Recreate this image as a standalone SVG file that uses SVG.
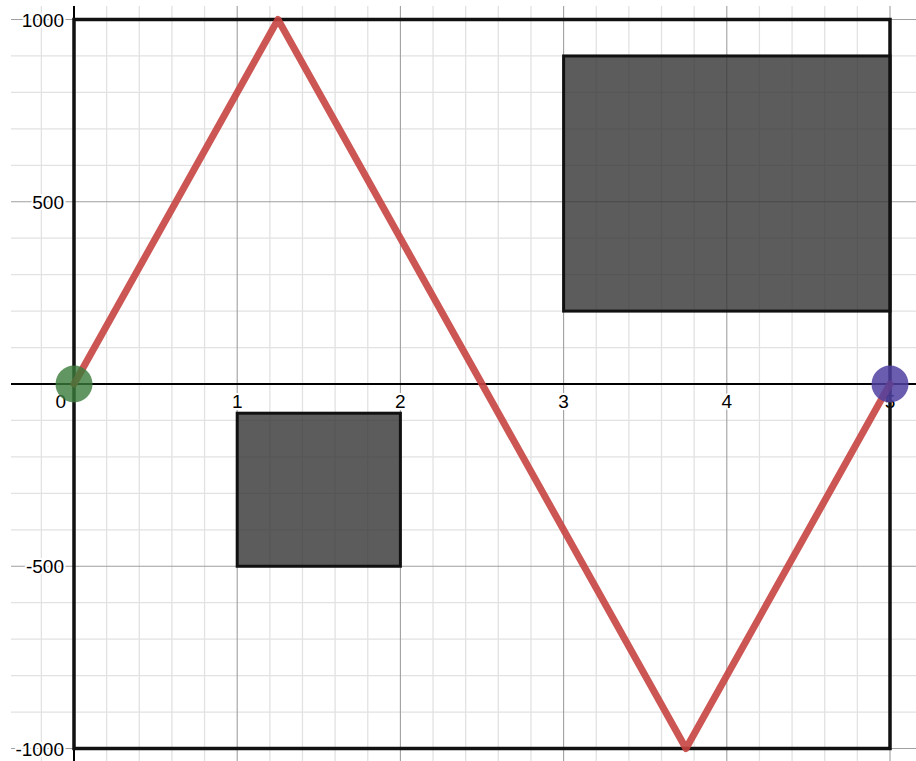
<svg xmlns="http://www.w3.org/2000/svg" width="916" height="761" viewBox="0 0 916 761">
<style>
.minor{stroke:#e2e2e2;stroke-width:1.3;fill:none}
.major{stroke:#a0a0a0;stroke-width:1.1;fill:none}
.axis{stroke:#000;stroke-width:2;fill:none}
.border{stroke:#111;stroke-width:3.5;fill:none}
.box{fill:#333;fill-opacity:0.8;stroke:#111;stroke-width:3}
.lbl{font-family:"Liberation Sans",Arial,sans-serif;font-size:19px;fill:#000;stroke:#fff;stroke-width:4;stroke-linejoin:round;paint-order:stroke}
.curve{fill:none;stroke:#c74440;stroke-opacity:0.9;stroke-width:7;stroke-linejoin:round;stroke-linecap:round}
</style>
<rect width="916" height="761" fill="#fff"/>
<g id="grid">
<path class="minor" d="M41.36 6V761M106.64 6V761M139.28 6V761M171.92 6V761M204.56 6V761M269.84 6V761M302.48 6V761M335.12 6V761M367.76 6V761M433.04 6V761M465.68 6V761M498.32 6V761M530.96 6V761M596.24 6V761M628.88 6V761M661.52 6V761M694.16 6V761M759.44 6V761M792.08 6V761M824.72 6V761M857.36 6V761"/>
<path class="minor" d="M11 55.95H916M11 92.4H916M11 128.85H916M11 165.3H916M11 238.2H916M11 274.65H916M11 311.1H916M11 347.55H916M11 420.45H916M11 456.9H916M11 493.35H916M11 529.8H916M11 602.7H916M11 639.15H916M11 675.6H916M11 712.05H916"/>
<path class="major" d="M237.2 6V761M400.4 6V761M563.6 6V761M726.8 6V761M890 6V761M11 19.5H916M11 201.75H916M11 566.25H916M11 748.5H916"/>
<path class="axis" d="M74 6V761M11 384H916"/>
</g>
<g id="labels">
<text class="lbl" x="64" y="27" text-anchor="end">1000</text>
<text class="lbl" x="64" y="208.5" text-anchor="end">500</text>
<text class="lbl" x="64" y="573" text-anchor="end">-500</text>
<text class="lbl" x="64" y="755.5" text-anchor="end">-1000</text>
<text class="lbl" x="66" y="408" text-anchor="end">0</text>
<text class="lbl" x="237.2" y="408" text-anchor="middle">1</text>
<text class="lbl" x="400.4" y="408" text-anchor="middle">2</text>
<text class="lbl" x="563.6" y="408" text-anchor="middle">3</text>
<text class="lbl" x="726.8" y="408" text-anchor="middle">4</text>
<text class="lbl" x="890" y="408" text-anchor="middle">5</text>
</g>
<g id="border">
<rect class="border" x="74" y="19.5" width="816" height="729"/>
</g>
<g id="box-small">
<rect class="box" x="237.2" y="413.2" width="163.2" height="153.05"/>
</g>
<g id="box-large">
<rect class="box" x="563.6" y="55.95" width="326.4" height="255.15"/>
</g>
<g id="connectors">
<path class="curve" d="M74 384L278 19.5L686 748.5L890 384"/>
</g>
<g id="start-point">
<circle cx="74" cy="384" r="18.5" fill="#3a7a3a" fill-opacity="0.8"/>
</g>
<g id="end-point">
<circle cx="890" cy="384" r="18.5" fill="#5040a0" fill-opacity="0.85"/>
</g>
</svg>
